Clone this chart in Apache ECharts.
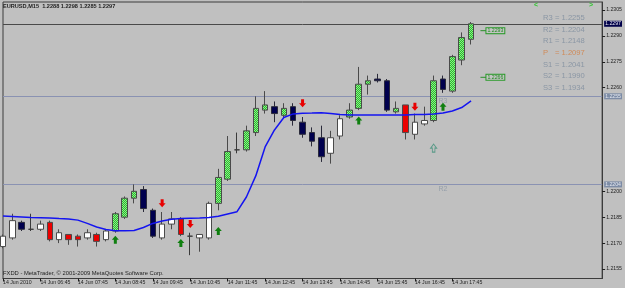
<!DOCTYPE html>
<html>
<head>
<meta charset="utf-8">
<script src="https://cdn.jsdelivr.net/npm/echarts@6/dist/echarts.min.js"></script>
<style>
html,body{margin:0;padding:0;background:#c0c0c0;}
#chart{width:625px;height:288px;}
</style>
</head>
<body>
<div id="chart"></div>
<script>
// ---- data ----
const times = ['05:45','06:00','06:15','06:30','06:45','07:00','07:15','07:30','07:45','08:00','08:15','08:30','08:45','09:00','09:15','09:30','09:45','10:00','10:15','10:30','10:45','11:00','11:15','11:30','11:45','12:00','12:15','12:30','12:45','13:00','13:15','13:30','13:45','14:00','14:15','14:30','14:45','15:00','15:15','15:30','15:45','16:00','16:15','16:30','16:45','17:00','17:15','17:30','17:45','18:00','18:15','18:30','18:45','19:00','19:15','19:30','19:45','20:00','20:15','20:30','20:45','21:00','21:15','21:30','21:45'];
const dateLabel = '14 Jun';
const firstLabel = '14 Jun 2010';
const opens  = [1.2168,1.2173,1.2182,1.2178,1.2178,1.2182,1.2172,1.2175,1.2174,1.2173,1.2175,1.2172,1.2177,1.2185,1.2196,1.2201,1.2189,1.2173,1.2181,1.2184,1.2174,1.2173,1.2173,1.2193,1.2207,1.2224,1.2224,1.2234,1.2247,1.2249,1.2244,1.2249,1.2240,1.2234,1.2231,1.2222,1.2232,1.2243,1.2248,1.2262,1.2265,1.2264,1.2246,1.2250,1.2233,1.2239,1.2241,1.2265,1.2258,1.2276,1.2288];
const highs  = [1.2175,1.2187,1.2183,1.2187,1.2183,1.2183,1.2178,1.2175,1.2175,1.2178,1.2176,1.2178,1.2188,1.2197,1.2204,1.2203,1.2190,1.2188,1.2188,1.2185,1.2176,1.2175,1.2194,1.2213,1.2232,1.2234,1.2238,1.2255,1.2258,1.2252,1.2251,1.2251,1.2243,1.2237,1.2238,1.2235,1.2244,1.2251,1.2272,1.2267,1.2268,1.2265,1.2252,1.2250,1.2245,1.2249,1.2267,1.2267,1.2279,1.2292,1.2298];
const lows   = [1.2167,1.2172,1.2177,1.2177,1.2177,1.2171,1.2170,1.2169,1.2168,1.2172,1.2168,1.2171,1.2176,1.2184,1.2193,1.2188,1.2173,1.2172,1.2178,1.2174,1.2163,1.2165,1.2172,1.2189,1.2206,1.2222,1.2223,1.2232,1.2245,1.2240,1.2243,1.2238,1.2231,1.2226,1.2217,1.2216,1.2230,1.2242,1.2247,1.2256,1.2263,1.2246,1.2245,1.2230,1.2230,1.2238,1.2240,1.2257,1.2257,1.2273,1.2285];
const closes = [1.2174,1.2183,1.2178,1.2178,1.2181,1.2172,1.2176,1.2172,1.2172,1.2176,1.2171,1.2177,1.2187,1.2196,1.2200,1.2190,1.2174,1.2181,1.2184,1.2175,1.2174,1.2175,1.2193,1.2208,1.2223,1.2224,1.2235,1.2248,1.2250,1.2245,1.2248,1.2241,1.2233,1.2229,1.2220,1.2231,1.2242,1.2247,1.2262,1.2264,1.2264,1.2247,1.2248,1.2234,1.2240,1.2241,1.2264,1.2259,1.2278,1.2289,1.2297];
// candle style class: G green, W white, N navy, R red, D doji
const kinds = ['W','W','N','D','W','R','W','R','R','W','R','W','G','G','G','N','N','W','W','R','D','W','W','G','G','D','G','G','G','N','G','N','N','N','N','W','W','G','G','G','N','N','G','R','W','W','G','N','G','G','G'];
const maValues = [1.21857,1.21854,1.21851,1.21848,1.21847,1.21845,1.21842,1.21840,1.21833,1.21814,1.21793,1.21779,1.21772,1.21772,1.21773,1.21790,1.21814,1.21828,1.21838,1.21842,1.21844,1.21845,1.21848,1.21855,1.21869,1.21882,1.21967,1.22089,1.22257,1.22355,1.22427,1.22448,1.22452,1.22453,1.22455,1.22451,1.22445,1.22442,1.22442,1.22442,1.22442,1.22442,1.22442,1.22442,1.22444,1.22445,1.22448,1.22453,1.22465,1.22485,1.22523];
const redDownArrows = [[17,1.2193],[20,1.2181],[32,1.2251],[44,1.2249]];
const greenUpArrows = [[12,1.2172],[19,1.2170],[23,1.2177],[38,1.2241],[47,1.2249]];
const hollowUpArrows = [[46,1.2225]];
const yTicks = [1.2155,1.2170,1.2185,1.2200,1.2260,1.2275,1.2290,1.2305];
const currentPrice = 1.2297;
const levelNames = ['R3','R2'];
const levelValues = [1.2255,1.2204];
const levelLabelAt = 47;
const priceLabelValues = [1.2293,1.2266];
const priceLabelAt = 51;
const pivotNames = ['R3','R2','R1','P','S1','S2','S3'];
const pivotValues = ['1.2255','1.2204','1.2148','1.2097','1.2041','1.1990','1.1934'];
const symbolName = 'EURUSD,M15';
const copyright = 'FXDD - MetaTrader, \u00a9 2001-2009 MetaQuotes Software Corp.';

// ---- styles ----
const FONT = 'Liberation Sans';
function hatch(a, b) {
  const c = document.createElement('canvas');
  c.width = 2; c.height = 2;
  const g = c.getContext('2d');
  g.fillStyle = a; g.fillRect(0, 0, 2, 2);
  g.fillStyle = b; g.fillRect(0, 0, 1, 1); g.fillRect(1, 1, 1, 1);
  return {image: c, repeat: 'repeat'};
}
const greenFill = hatch('#2fb52f', '#86f286');
const kindStyle = {
  G: {fill:greenFill, border:'#4a4a4a'},
  W: {fill:'#ffffff', border:'#4a4a4a'},
  N: {fill:'#00004e', border:'#2a2a3a'},
  R: {fill:'#ec0000', border:'#4a4a4a'},
  D: {fill:'#3a3a3a', border:'#3a3a3a'}
};

const candleData = opens.map((o, i) => {
  const s = kindStyle[kinds[i]];
  return {
    value: [o, closes[i], lows[i], highs[i]],
    itemStyle: {color: s.fill, color0: s.fill, borderColor: s.border, borderColor0: s.border, borderColorDoji: s.border}
  };
});

const labelShown = (i) => i % 4 === 0 && i <= 48;
const last = opens.length - 1;
const titleText = symbolName + '  ' + [opens[last], highs[last], lows[last], closes[last]].map(v => v.toFixed(4)).join(' ');

const downPath = 'path://M2,0 L5,0 L5,4 L7,4 L3.5,8 L0,4 L2,4 Z';
const upPath = 'path://M3.5,0 L7,4 L5,4 L5,8 L2,8 L2,4 L0,4 Z';

const graphics = [
  {type:'text', left:3, top:3, style:{text:titleText, font:'bold 5.6px "' + FONT + '"', fill:'#1e1e1e'}},
  {type:'text', left:3, top:270, style:{text:copyright, font:'5.8px "' + FONT + '"', fill:'#1e1e1e'}},
  {type:'text', left:534, top:2, style:{text:'<', font:'bold 7px "' + FONT + '"', fill:'#30c830'}},
  {type:'text', left:589, top:2, style:{text:'>', font:'bold 7px "' + FONT + '"', fill:'#30c830'}}
];
pivotNames.forEach((n, k) => {
  const col = n === 'P' ? '#cf8a58' : '#8a96a4';
  const y = 14 + k * 11.65;
  graphics.push({type:'text', left:543, top:y, style:{text:n, font:'7.6px "' + FONT + '"', fill:col}});
  graphics.push({type:'text', left:555, top:y, style:{text:'= ' + pivotValues[k], font:'7.6px "' + FONT + '"', fill:col}});
});

const markLabel = (v, bg, fg) => ({show:true, position:'end', distance:2, formatter:v.toFixed(4), fontSize:5.2, fontFamily:FONT,
  color:fg, backgroundColor:bg, padding:[1,1,0,1]});

const chart = echarts.init(document.getElementById('chart'), null, {renderer:'canvas'});
chart.setOption({
  backgroundColor:'#c0c0c0',
  animation:false,
  grid:{left:2, right:22, top:2, bottom:9.5, show:true, borderColor:'#3c3c3c', borderWidth:1, backgroundColor:'#c0c0c0'},
  xAxis:{
    type:'category', data:times, boundaryGap:false,
    axisLine:{show:true, lineStyle:{color:'#3c3c3c', width:1}},
    axisTick:{show:true, interval:(i)=>labelShown(i), length:3, lineStyle:{color:'#1e1e1e'}},
    axisLabel:{interval:(i)=>labelShown(i), hideOverlap:false, align:'left', margin:2,
      fontSize:5.2, fontFamily:FONT, color:'#1e1e1e',
      formatter:(v, i)=> i === 0 ? firstLabel : dateLabel + ' ' + v},
    splitLine:{show:false}
  },
  yAxis:{
    type:'value', position:'right', min:1.21495, max:1.23096, scale:true,
    axisLine:{show:true, lineStyle:{color:'#3c3c3c', width:1}},
    axisTick:{show:true, customValues:yTicks, length:3, lineStyle:{color:'#1e1e1e'}},
    axisLabel:{customValues:yTicks, hideOverlap:false, formatter:(v)=>v.toFixed(4), fontSize:5.2, fontFamily:FONT, color:'#1e1e1e', margin:4},
    splitLine:{show:false}
  },
  graphic:graphics,
  series:[
    {
      name:'MA', type:'line', data:maValues, symbol:'none', smooth:false, z:4,
      lineStyle:{color:'#1414f0', width:1.5},
      markLine:{
        silent:true, symbol:['none','none'], animation:false, precision:4, z:1,
        data:[
          {yAxis:currentPrice, lineStyle:{color:'#4a4a4a', width:1, type:'solid'},
           label:markLabel(currentPrice, '#00004a', '#e8e8f0')},
          ...levelValues.map(v => ({yAxis:v, lineStyle:{color:'#8a92b2', width:1, type:'solid'},
           label:markLabel(v, '#7d8ca6', '#e4e8f0')}))
        ]
      }
    },
    {
      name:'EURUSD', type:'candlestick', data:candleData, barWidth:6, z:3,
      itemStyle:{borderWidth:1}
    },
    {
      name:'Sell', type:'scatter', data:redDownArrows, symbol:downPath, symbolSize:[7,8], z:5,
      itemStyle:{color:'#e80000', opacity:1}
    },
    {
      name:'Buy', type:'scatter', data:greenUpArrows, symbol:upPath, symbolSize:[7,8], z:5,
      itemStyle:{color:'#0f7f0f', opacity:1}
    },
    {
      name:'Signal', type:'scatter', data:hollowUpArrows, symbol:upPath, symbolSize:[6,8], z:5,
      itemStyle:{color:'rgba(0,0,0,0)', borderColor:'#5a9a88', borderWidth:1, opacity:1}
    },
    {
      name:'Levels', type:'scatter', z:2, symbolSize:1, itemStyle:{color:'rgba(0,0,0,0)'},
      data:levelNames.map((n, k) => ({name:n, value:[levelLabelAt, levelValues[k]]})),
      label:{show:true, position:'bottom', distance:1, formatter:'{b}', fontSize:7, fontFamily:FONT, color:'#8a96a4'}
    },
    {
      name:'PriceLabels', type:'scatter', z:2, symbol:'rect', symbolSize:[6,1], symbolOffset:[3,0],
      itemStyle:{color:'#2a902a', opacity:1},
      data:priceLabelValues.map(v => [priceLabelAt, v]),
      label:{show:true, position:'right', distance:0, formatter:(p)=>p.value[1].toFixed(4), fontSize:5.2, fontFamily:FONT,
        color:'#1c8a1c', borderColor:'#2a9a2a', borderWidth:1, padding:[0,1], backgroundColor:'#c4c4c4'}
    }
  ]
});
</script>
</body>
</html>
